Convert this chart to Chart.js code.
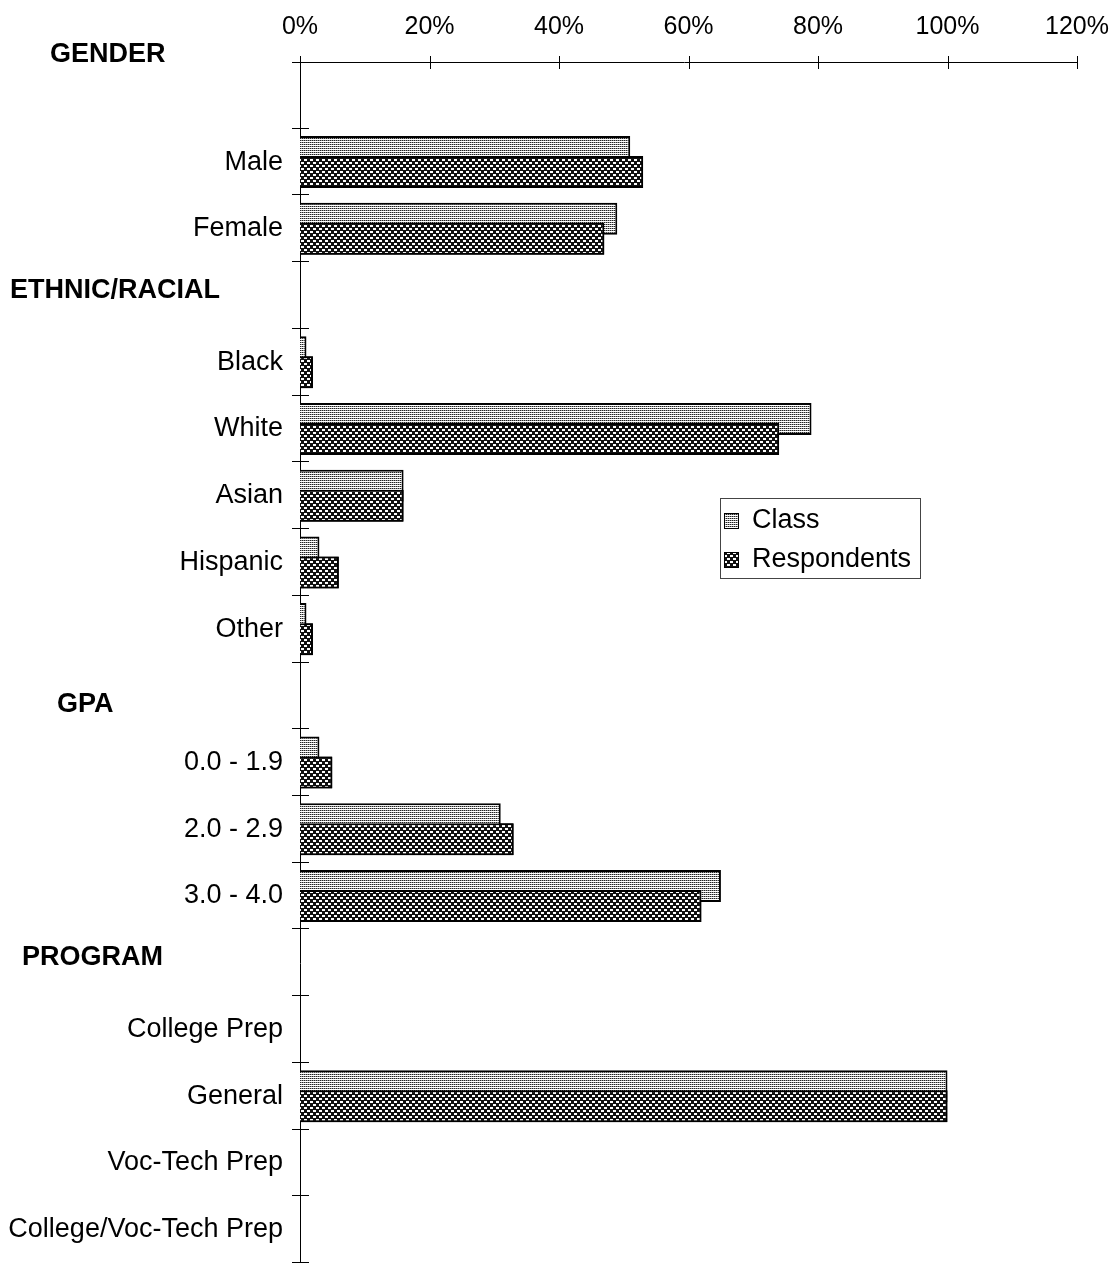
<!DOCTYPE html>
<html>
<head>
<meta charset="utf-8">
<script src="https://cdn.jsdelivr.net/npm/chart.js@4.4.0/dist/chart.umd.min.js"></script>
<style>
  html, body { margin: 0; padding: 0; background: #fff; }
  canvas { display: block; }
</style>
</head>
<body>
<canvas id="profile" width="1120" height="1263"></canvas>
<script>
// one entry per row; the blank rows carry the group headings
const categories = ['', 'Male', 'Female', '', 'Black', 'White', 'Asian', 'Hispanic', 'Other', '',
    '0.0 - 1.9', '2.0 - 2.9', '3.0 - 4.0', '', 'College Prep', 'General', 'Voc-Tech Prep', 'College/Voc-Tech Prep'];
const headings = ['GENDER', 'ETHNIC/RACIAL', 'GPA', 'PROGRAM'];
const headingRows = [0, 3, 9, 13];
const classPct = [null, 51, 49, null, 1, 79, 16, 3, 1, null, 3, 31, 65, null, 0, 100, 0, 0];
const respondentPct = [null, 53, 47, null, 2, 74, 16, 6, 2, null, 5, 33, 62, null, 0, 100, 0, 0];
const xTicks = [0, 20, 40, 60, 80, 100, 120];

const FONT = "'Liberation Sans', Arial, sans-serif";
const canvas = document.getElementById('profile');
const ctx = canvas.getContext('2d');

function makePattern(w, h, paint) {
    const c = document.createElement('canvas');
    c.width = w;
    c.height = h;
    paint(c.getContext('2d'));
    return ctx.createPattern(c, 'repeat');
}

// fine stipple for the class, dark dashed hatch for respondents
const classFill = makePattern(2, 2, g => {
    g.fillStyle = '#fff';
    g.fillRect(0, 0, 2, 2);
    g.fillStyle = '#222';
    g.fillRect(0, 0, 1, 1);
    g.fillStyle = '#999';
    g.fillRect(1, 0, 1, 1);
});
const respFill = makePattern(6, 6, g => {
    g.fillStyle = '#111';
    g.fillRect(0, 0, 6, 6);
    g.fillStyle = '#fff';
    g.fillRect(1, 0, 3, 2);
    g.fillRect(4, 3, 2, 2);
    g.fillRect(0, 3, 1, 2);
});

// heading placement: left x and offset from row centre
const headingPos = [[50, -41], [10, -5], [57, 9], [22, -5]];

const decorations = {
    id: 'decorations',
    afterDatasetsDraw(chart) {
        // respondents sit over the class bars
        const c = chart.ctx;
        c.save();
        chart.getDatasetMeta(1).controller.draw();
        c.restore();
    },
    afterDraw(chart) {
        const c = chart.ctx;
        const { left, right, top } = chart.chartArea;
        const xs = chart.scales.x;
        const ys = chart.scales.y;
        c.save();
        c.strokeStyle = '#000';
        c.lineWidth = 1;
        c.beginPath();
        c.moveTo(left - 8, top + 0.5);
        c.lineTo(right, top + 0.5);
        xTicks.forEach(v => {
            const px = Math.round(xs.getPixelForValue(v)) + 0.5;
            c.moveTo(px, top - 6);
            c.lineTo(px, top + 7);
        });
        const rowH = ys.getPixelForValue(1) - ys.getPixelForValue(0);
        for (let i = 1; i <= categories.length; i++) {
            const py = Math.round(ys.getPixelForValue(i) - rowH / 2) - 0.5;
            c.moveTo(left - 8, py);
            c.lineTo(left + 9, py);
        }
        c.stroke();

        // group headings
        c.fillStyle = '#000';
        c.font = 'bold 27px ' + FONT;
        c.textAlign = 'left';
        c.textBaseline = 'middle';
        headings.forEach((h, k) => {
            const py = ys.getPixelForValue(headingRows[k]) + headingPos[k][1];
            c.fillText(h, headingPos[k][0], py);
        });

        // legend box
        const lx = 720, ly = 498, lw = 200, lh = 80;
        c.fillStyle = '#fff';
        c.fillRect(lx, ly, lw, lh);
        c.strokeStyle = '#444';
        c.strokeRect(lx + 0.5, ly + 0.5, lw, lh);
        c.font = '27px ' + FONT;
        chart.data.datasets.forEach((ds, i) => {
            const cy = ly + 22 + i * 39;
            c.fillStyle = ds.backgroundColor;
            c.fillRect(lx + 4, cy - 7, 14, 15);
            c.strokeStyle = '#000';
            c.strokeRect(lx + 4.5, cy - 6.5, 14, 15);
            c.fillStyle = '#000';
            c.fillText(ds.label, lx + 32, cy + 1);
        });
        c.restore();
    }
};

new Chart(ctx, {
    type: 'bar',
    data: {
        labels: categories,
        datasets: [{
            label: 'Class',
            data: classPct,
            backgroundColor: classFill,
            borderColor: '#000',
            borderWidth: 2
        }, {
            label: 'Respondents',
            data: respondentPct,
            backgroundColor: respFill,
            borderColor: '#000',
            borderWidth: 2
        }]
    },
    options: {
        indexAxis: 'y',
        responsive: false,
        animation: false,
        categoryPercentage: 0.6,
        barPercentage: 1.6,
        layout: { padding: { left: 0, right: 43, top: 0, bottom: 0 } },
        scales: {
            x: {
                type: 'linear',
                position: 'top',
                min: 0,
                max: 120,
                afterBuildTicks: s => { s.ticks = xTicks.map(v => ({ value: v })); },
                afterFit: s => { s.height = 62; s.paddingLeft = 0; s.paddingRight = 0; },
                grid: { display: false, drawTicks: false },
                border: { display: false },
                ticks: {
                    padding: 20,
                    color: '#000',
                    font: { family: FONT, size: 25 },
                    callback: v => v + '%'
                }
            },
            y: {
                offset: true,
                afterFit: s => { s.width = 300; s.paddingTop = 0; s.paddingBottom = 0; },
                grid: { display: false, drawTicks: false },
                border: { display: true, color: '#000', width: 1 },
                ticks: {
                    padding: 17,
                    color: '#000',
                    font: { family: FONT, size: 27 },
                    autoSkip: false
                }
            }
        },
        plugins: {
            legend: { display: false },
            tooltip: { enabled: false }
        }
    },
    plugins: [decorations]
});
</script>
</body>
</html>
